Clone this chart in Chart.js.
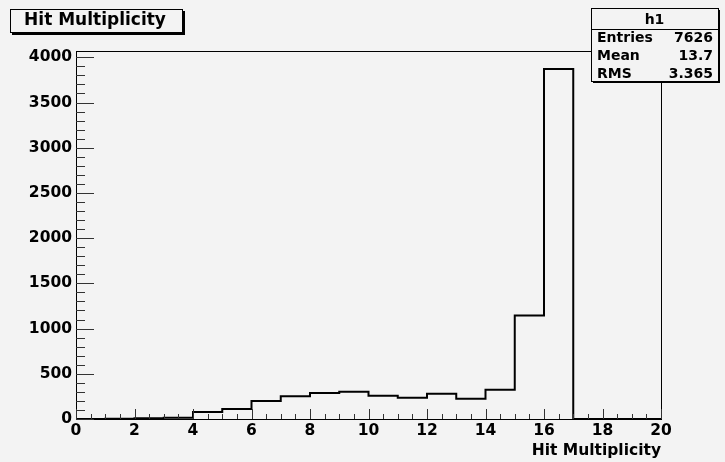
<!DOCTYPE html>
<html>
<head>
<meta charset="utf-8">
<script src="https://cdn.jsdelivr.net/npm/chart.js@4"></script>
<style>
  html, body { margin: 0; padding: 0; background: #f3f3f3; }
  #wrap { width: 725px; height: 462px; }
</style>
</head>
<body>
<div id="wrap"><canvas id="histChart" width="725" height="462"></canvas></div>
<script>
// bin lower edges (0..19) plus the last upper edge 20
const binEdges = [0, 1, 2, 3, 4, 5, 6, 7, 8, 9, 10, 11, 12, 13, 14, 15, 16, 17, 18, 19, 20];
const counts = [0, 2, 8, 14, 77, 110, 199, 251, 287, 302, 257, 235, 280, 224, 324, 1146, 3870, 0, 0, 0];
const xTickLabels = ['0', '2', '4', '6', '8', '10', '12', '14', '16', '18', '20'];
const yTickLabels = ['0', '500', '1000', '1500', '2000', '2500', '3000', '3500', '4000'];
const statsRows = [['Entries', '7626'], ['Mean', '13.7'], ['RMS', '3.365']];

const FONT = '"DejaVu Sans", Verdana, sans-serif';

// step points: each bin edge carries the count of the bin that starts there
const points = binEdges.map((x, i) => ({ x: x, y: i < counts.length ? counts[i] : 0 }));

// ROOT-like frame, inward ticks, title box and stats box
const rootStyle = {
  id: 'rootStyle',
  beforeDraw(chart) {
    const ctx = chart.ctx;
    ctx.save();
    ctx.fillStyle = '#f3f3f3';
    ctx.fillRect(0, 0, chart.width, chart.height);
    ctx.restore();
  },
  afterDraw(chart) {
    const ctx = chart.ctx;
    const a = chart.chartArea;
    const xs = chart.scales.x, ys = chart.scales.y;
    ctx.save();
    ctx.strokeStyle = '#000';
    ctx.lineWidth = 1;
    ctx.strokeRect(Math.round(a.left) + 0.5, Math.round(a.top) + 0.5,
      Math.round(a.right - a.left), Math.round(a.bottom - a.top));

    ctx.strokeStyle = '#333';
    ctx.beginPath();
    xs.ticks.forEach(t => {
      const px = Math.round(xs.getPixelForValue(t.value)) + 0.5;
      const len = xTickLabels.includes(String(t.value)) ? 10 : 5;
      ctx.moveTo(px, a.bottom);
      ctx.lineTo(px, a.bottom - len);
    });
    ys.ticks.forEach(t => {
      const py = Math.round(ys.getPixelForValue(t.value)) + 0.5;
      const len = yTickLabels.includes(String(t.value)) ? 18 : 9;
      ctx.moveTo(a.left, py);
      ctx.lineTo(a.left + len, py);
    });
    ctx.stroke();

    // title box
    ctx.fillStyle = '#000';
    ctx.fillRect(12, 11, 173, 24);
    ctx.fillStyle = '#f3f3f3';
    ctx.fillRect(10, 9, 172, 23);
    ctx.strokeStyle = '#000';
    ctx.strokeRect(10.5, 9.5, 172, 23);
    ctx.fillStyle = '#000';
    ctx.font = 'bold 17px ' + FONT;
    ctx.textAlign = 'center';
    ctx.textBaseline = 'middle';
    ctx.fillText('Hit Multiplicity', 95, 21);

    // stats box
    const bx = 591, by = 8, bw = 127, bh = 73;
    ctx.fillStyle = '#000';
    ctx.fillRect(bx + 2, by + 2, bw, bh);
    ctx.fillStyle = '#f3f3f3';
    ctx.fillRect(bx, by, bw, bh);
    ctx.strokeRect(bx + 0.5, by + 0.5, bw, bh);
    ctx.beginPath();
    ctx.moveTo(bx, by + 21.5);
    ctx.lineTo(bx + bw, by + 21.5);
    ctx.stroke();
    ctx.fillStyle = '#000';
    ctx.font = 'bold 14px ' + FONT;
    ctx.fillText('h1', bx + bw / 2, by + 12);
    statsRows.forEach((r, i) => {
      const y = by + 30 + i * 18;
      ctx.textAlign = 'left';
      ctx.fillText(r[0], bx + 6, y);
      ctx.textAlign = 'right';
      ctx.fillText(r[1], bx + bw - 5, y);
    });
    ctx.restore();
  }
};

const ctx = document.getElementById('histChart').getContext('2d');
const histChart = new Chart(ctx, {
  type: 'line',
  data: {
    datasets: [{
      label: 'h1',
      data: points,
      stepped: 'before',
      borderColor: '#000',
      borderWidth: 2,
      pointRadius: 0,
      fill: false
    }]
  },
  options: {
    responsive: false,
    animation: false,
    layout: { padding: { left: 0, top: 51, right: 64, bottom: 0 } },
    plugins: {
      legend: { display: false },
      tooltip: { enabled: false }
    },
    scales: {
      x: {
        type: 'linear',
        min: 0,
        max: 20,
        afterFit: s => { s.height = 43; },
        grid: { display: false, drawTicks: false },
        border: { display: true, color: '#222', width: 1 },
        ticks: {
          stepSize: 0.5,
          autoSkip: false,
          maxRotation: 0,
          padding: 3,
          color: '#000',
          font: { family: FONT, size: 15.5, weight: 'bold' },
          callback: v => xTickLabels.includes(String(v)) ? String(v) : ''
        },
        title: {
          display: true,
          text: 'Hit Multiplicity',
          align: 'end',
          color: '#000',
          padding: { top: 0, bottom: 2 },
          font: { family: FONT, size: 15.5, weight: 'bold' }
        }
      },
      y: {
        min: 0,
        max: 4070,
        afterFit: s => { s.width = 76; },
        grid: { display: false, drawTicks: false },
        border: { display: true, color: '#222', width: 1 },
        ticks: {
          stepSize: 100,
          includeBounds: false,
          autoSkip: false,
          padding: 4,
          color: '#000',
          font: { family: FONT, size: 15.5, weight: 'bold' },
          callback: v => yTickLabels.includes(String(v)) ? String(v) : ''
        }
      }
    }
  },
  plugins: [rootStyle]
});
</script>
</body>
</html>
